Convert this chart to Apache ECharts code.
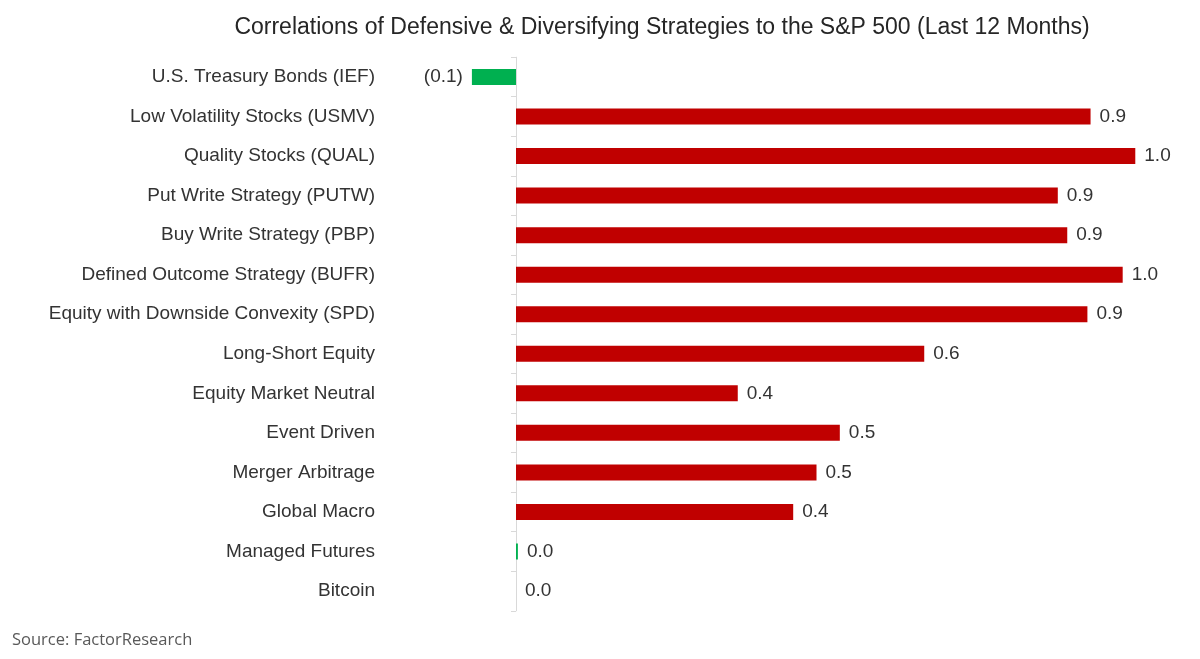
<!DOCTYPE html>
<html>
<head>
<meta charset="utf-8">
<script src="https://cdn.jsdelivr.net/npm/echarts@6/dist/echarts.min.js"></script>
<style>
html,body{margin:0;padding:0;background:#fff;}
#chart{width:1200px;height:659px;}
</style>
</head>
<body>
<div id="chart"></div>
<script>
var categories = [
  "U.S. Treasury Bonds (IEF)",
  "Low Volatility Stocks (USMV)",
  "Quality Stocks (QUAL)",
  "Put Write Strategy (PUTW)",
  "Buy Write Strategy (PBP)",
  "Defined Outcome Strategy (BUFR)",
  "Equity with Downside Convexity (SPD)",
  "Long-Short Equity",
  "Equity Market Neutral",
  "Event Driven",
  "Merger Arbitrage",
  "Global Macro",
  "Managed Futures",
  "Bitcoin"
];
var correlations = [-0.07, 0.912, 0.983, 0.86, 0.875, 0.963, 0.907, 0.648, 0.352, 0.514, 0.477, 0.44, 0.003, 0];
var titleText = "Correlations of Defensive & Diversifying Strategies to the S&P 500 (Last 12 Months)";
var sourceText = "Source: FactorResearch";

var RED = "#C00000", GREEN = "#00B050";
function fmt(v) {
  var s = Math.abs(v).toFixed(1);
  return v < -0.05 ? "(" + s + ")" : s;
}
var chart = echarts.init(document.getElementById("chart"));
chart.setOption({
  animation: false,
  backgroundColor: "#fff",
  title: {
    text: titleText,
    left: 657, top: 11, textAlign: "center",
    textStyle: {fontFamily: "Liberation Sans", fontSize: 23, fontWeight: "normal", color: "#262626"}
  },
  graphic: [{
    type: "text", left: 12, top: 632,
    style: {text: sourceText, fontFamily: "Open Sans", fontSize: 16.5, fill: "#595959"}
  }],
  grid: {left: 453, width: 693, top: 57.2, bottom: 48.2, containLabel: false},
  xAxis: {
    type: "value", min: -0.1, max: 1.0,
    axisLine: {show: false}, axisTick: {show: false}, axisLabel: {show: false}, splitLine: {show: false}
  },
  yAxis: {
    type: "category", data: categories, inverse: true,
    axisLine: {show: true, onZero: true, lineStyle: {color: "#D9D9D9", width: 1}},
    axisTick: {show: true, length: 5, lineStyle: {color: "#D9D9D9"}},
    axisLabel: {margin: 78, padding: [3, 0, 0, 0], fontFamily: "Liberation Sans", fontSize: 19, color: "#333333"}
  },
  series: [{
    type: "bar",
    data: correlations.map(function (v) {
      return {
        value: v,
        itemStyle: {color: v < 0.05 ? GREEN : RED},
        label: {position: v < 0 ? "left" : "right"}
      };
    }),
    barWidth: 16,
    label: {
      show: true, distance: 9, padding: [3, 0, 0, 0],
      fontFamily: "Liberation Sans", fontSize: 19, color: "#333333",
      formatter: function (p) { return fmt(p.value); }
    }
  }]
});
</script>
</body>
</html>
